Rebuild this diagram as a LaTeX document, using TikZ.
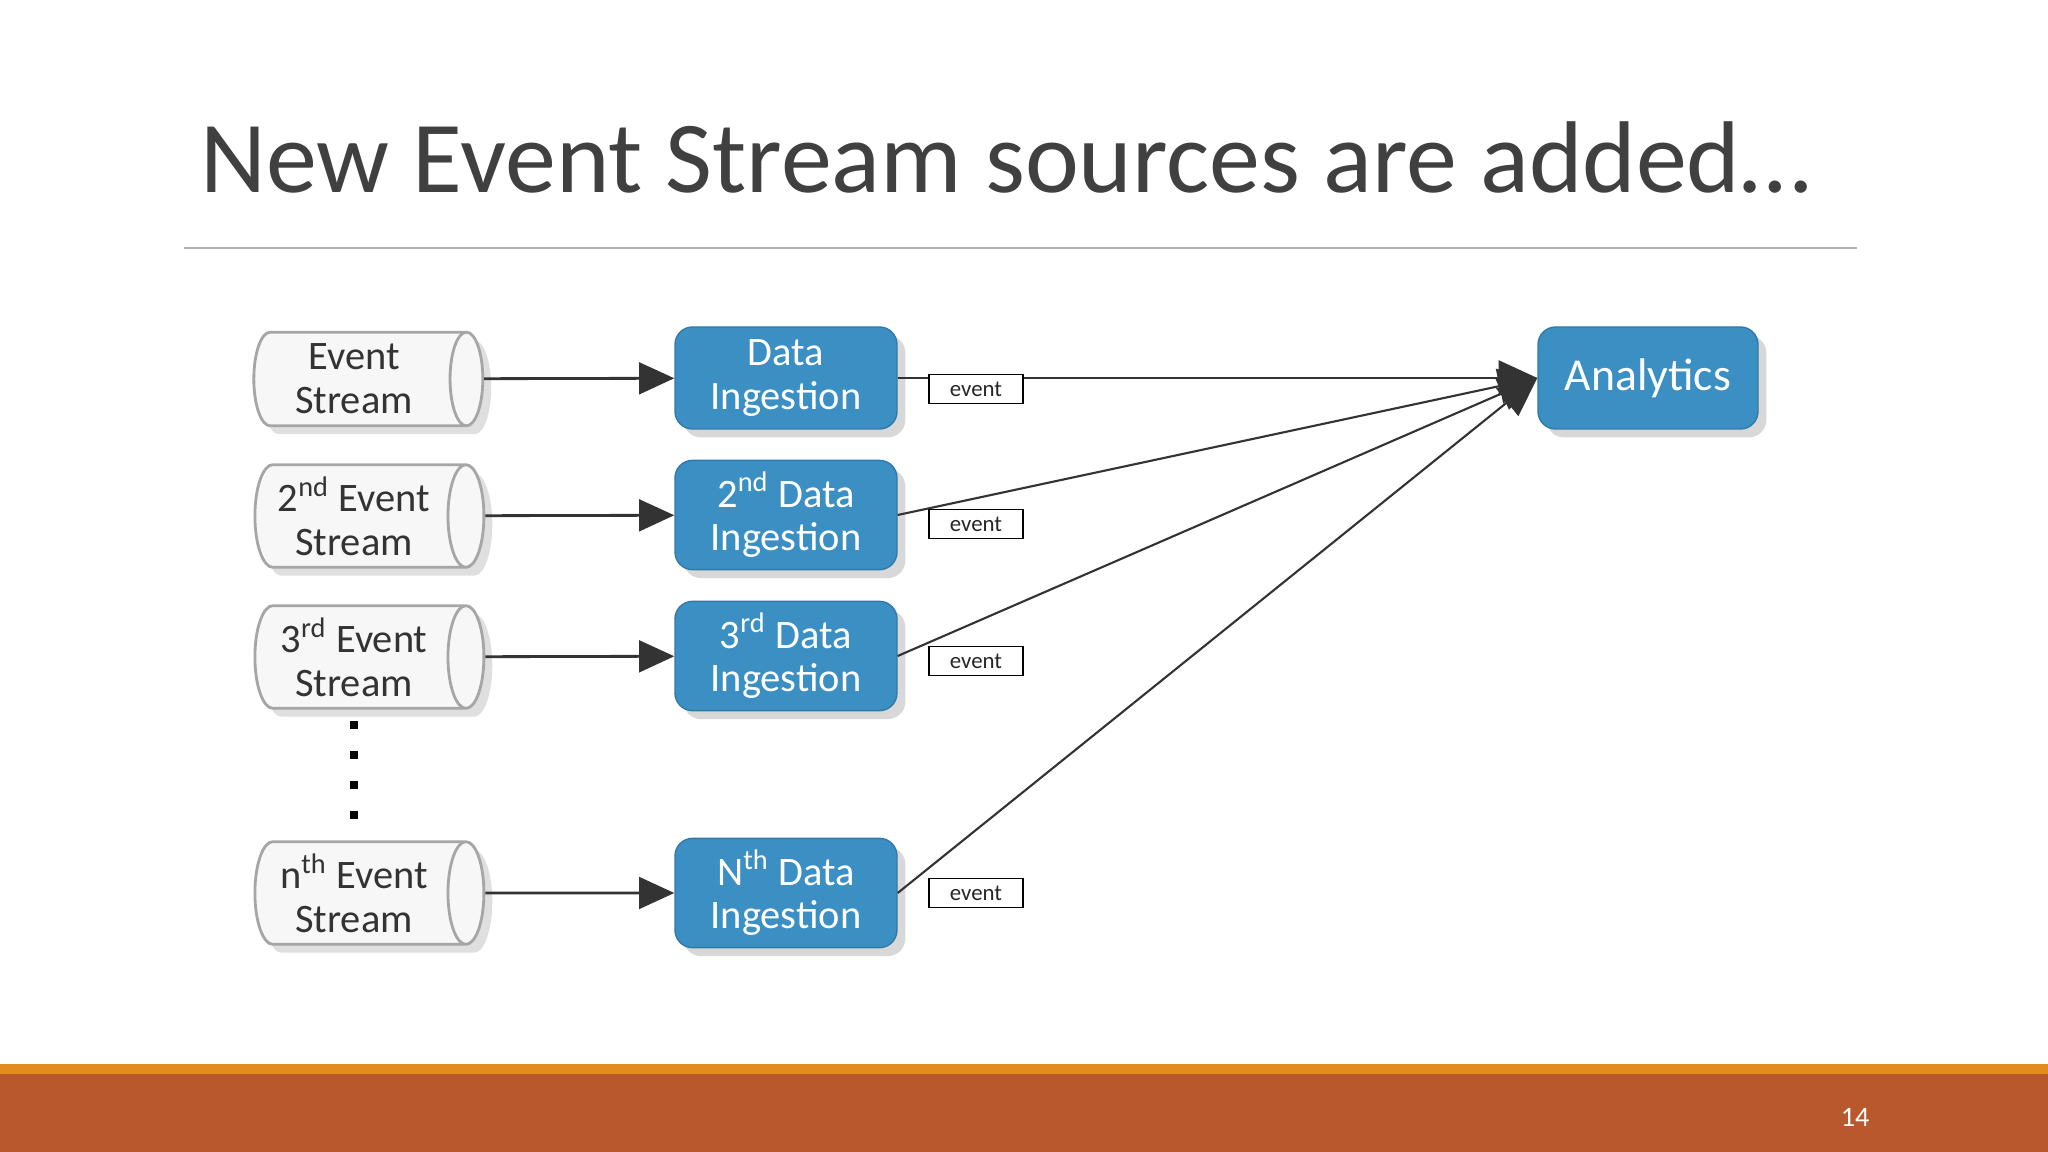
\documentclass[tikz,border=0pt]{standalone}
\usepackage{fontspec}
\setmainfont{Carlito}
\usetikzlibrary{shapes.geometric,shadows,arrows.meta}
\definecolor{titlegray}{HTML}{404040}
\definecolor{boxblue}{HTML}{3B8FC2}
\definecolor{barorange}{HTML}{E38B1F}
\definecolor{bardark}{HTML}{B9582C}
\newlength{\pxu}\setlength{\pxu}{0.01cm}
\begin{document}
\begin{tikzpicture}[x=0.01cm,y=-0.01cm,
  stream/.style={cylinder,draw=gray!70,fill=gray!6,thick,minimum width=89\pxu,
    minimum height=229\pxu,aspect=0.35,align=center,text=gray!40!black,
    font=\fontsize{11.5}{12.5}\selectfont,drop shadow={opacity=0.25}},
  ingest/.style={rectangle,rounded corners=5pt,fill=boxblue,draw=boxblue!85!black,
    minimum width=222\pxu,minimum height=102\pxu,align=center,text=white,
    font=\fontsize{11.5}{12.5}\selectfont,drop shadow={opacity=0.3}},
  evt/.style={rectangle,draw=black,fill=white,minimum width=94\pxu,
    minimum height=29\pxu,inner sep=0pt,font=\fontsize{6.5}{7}\selectfont,text=gray!30!black},
  feed/.style={draw=black!80,thick,-{Triangle[length=10pt,width=9pt]}},
  merge/.style={draw=black!80,semithick,-{Triangle[length=11pt,width=10pt]}}]
\useasboundingbox (0,0) rectangle (2048,1152);
\fill[white] (0,0) rectangle (2048,1152);
% title and rule
\node[anchor=west,text=titlegray,font=\fontsize{29}{32}\selectfont,inner sep=0pt] (title) at (200,157) {New Event Stream sources are added…};
\draw[gray!60] (184,248) -- (1857,248);
% bottom bar
\fill[barorange] (0,1064) rectangle (2048,1074);
\fill[bardark] (0,1074) rectangle (2048,1152);
\node[text=white,font=\fontsize{8}{9}\selectfont] (pg) at (1855,1117) {14};
% streams
\node[stream] (s1) at (354,379) {Event\\Stream};
\node[stream] (s2) at (354,516) {2\textsuperscript{nd} Event\\Stream};
\node[stream] (s3) at (354,657) {3\textsuperscript{rd} Event\\Stream};
\node[stream] (s4) at (354,893) {n\textsuperscript{th} Event\\Stream};
\foreach \yy in {725,755,785,815}
  \fill (350,\yy-4) rectangle (358,\yy+4);
% ingestion
\node[ingest] (d1) at (786,378) {Data\\Ingestion};
\node[ingest] (d2) at (786,515) {2\textsuperscript{nd} Data\\Ingestion};
\node[ingest] (d3) at (786,656) {3\textsuperscript{rd} Data\\Ingestion};
\node[ingest] (d4) at (786,893) {N\textsuperscript{th} Data\\Ingestion};
\node[ingest,minimum width=220\pxu] (an) at (1648,378) {\fontsize{13}{14}\selectfont Analytics};
\foreach \i in {1,...,4} \draw[feed] (s\i) -- (d\i);
\foreach \i in {1,...,4} \draw[merge] (d\i.east) -- (an.west);
% event tags
\node[evt] (e1) at (976,389) {event};
\node[evt] (e2) at (976,524) {event};
\node[evt] (e3) at (976,661) {event};
\node[evt] (e4) at (976,893) {event};
\end{tikzpicture}
\end{document}
